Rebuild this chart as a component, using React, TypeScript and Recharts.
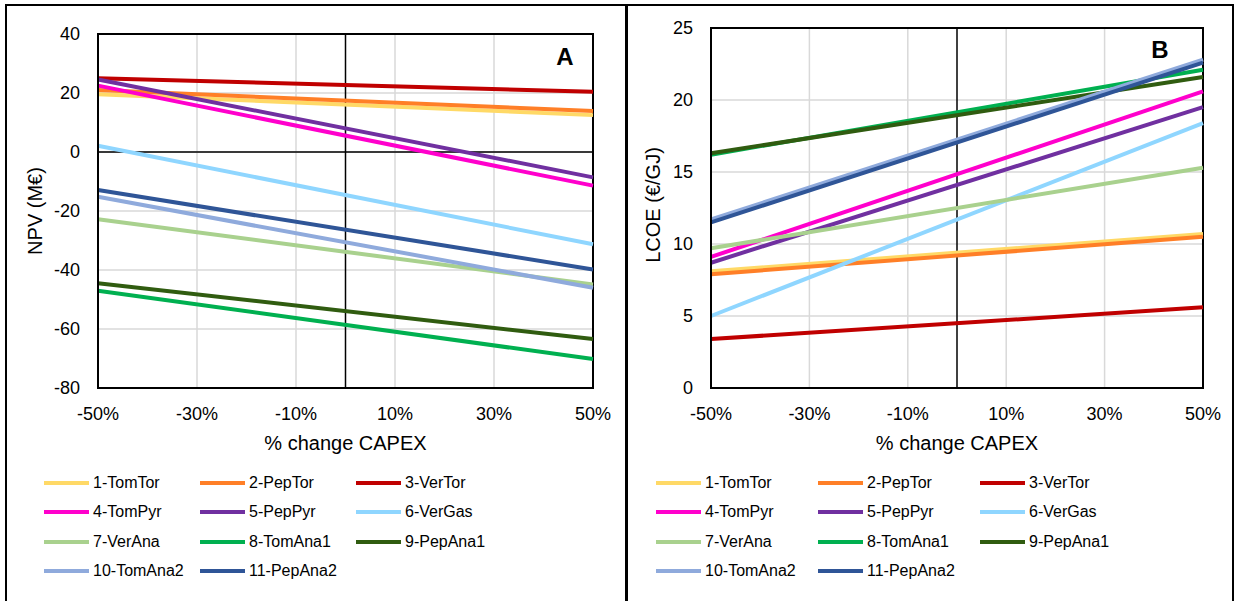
import { LineChart, Line, XAxis, YAxis, CartesianGrid, ReferenceLine, ReferenceArea, Label } from 'recharts'

const seriesNames = [
  '1-TomTor', '2-PepTor', '3-VerTor',
  '4-TomPyr', '5-PepPyr', '6-VerGas',
  '7-VerAna', '8-TomAna1', '9-PepAna1',
  '10-TomAna2', '11-PepAna2',
]
const seriesColors = [
  '#FFD966', '#FF7F27', '#C00000',
  '#FF00CC', '#7030A0', '#8FD6FF',
  '#A9D18E', '#00B050', '#305C10',
  '#8FAADC', '#2F5597',
]

// CAPEX variation (%) at the two ends of each sensitivity line
const capexChange = [-50, 50]
const capexTicks = [-50, -30, -10, 10, 30, 50]

// NPV (M€)
const npvAtMinus50 = [19.6, 21.0, 25.0, 22.5, 24.6, 2.1, -22.8, -47.0, -44.5, -15.2, -12.9]
const npvAtPlus50 = [12.5, 13.9, 20.4, -11.4, -8.6, -31.3, -44.9, -70.2, -63.4, -46.0, -39.8]
const npvTicks = [-80, -60, -40, -20, 0, 20, 40]

// LCOE (€/GJ)
const lcoeAtMinus50 = [8.1, 7.9, 3.4, 9.1, 8.7, 5.0, 9.7, 16.2, 16.3, 11.7, 11.5]
const lcoeAtPlus50 = [10.7, 10.5, 5.6, 20.6, 19.5, 18.4, 15.3, 22.1, 21.6, 22.8, 22.6]
const lcoeTicks = [0, 5, 10, 15, 20, 25]

const buildRows = (low: number[], high: number[]) =>
  capexChange.map((x, i) => {
    const row: Record<string, number> = { x }
    const vals = i === 0 ? low : high
    seriesNames.forEach((_, k) => { row['s' + k] = vals[k] })
    return row
  })

const npvRows = buildRows(npvAtMinus50, npvAtPlus50)
const lcoeRows = buildRows(lcoeAtMinus50, lcoeAtPlus50)

const FONT = '"Liberation Sans", Arial, sans-serif'

const rotatedTitle = (x: number, y: number, value: string) => () => (
  <text x={x} y={y} transform={`rotate(-90 ${x} ${y})`} textAnchor="middle"
    dominantBaseline="central" fontSize={20} fill="#000">{value}</text>
)

const cornerTag = (x: number, y: number, value: string) => () => (
  <text x={x} y={y} textAnchor="middle" fontSize={24} fontWeight="bold" fill="#000">{value}</text>
)

type PanelProps = {
  rows: Record<string, number>[]
  width: number
  yWidth: number
  top: number
  right: number
  domain: [number, number]
  ticks: number[]
  title: string
  titleX: number
  tag: string
  tagX: number
  tagY: number
  zeroLine: boolean
}

const Panel = (p: PanelProps) => (
  <LineChart width={p.width} height={470} data={p.rows}
    margin={{ top: p.top, right: p.right, bottom: 0, left: 0 }}>
    <CartesianGrid stroke="#D9D9D9" strokeWidth={1.5} />
    <XAxis dataKey="x" type="number" domain={[-50, 50]} ticks={capexTicks}
      tickFormatter={(v) => `${v}%`} height={82} tickSize={0} tickMargin={19}
      tick={{ fill: '#000', fontSize: 18 }} axisLine={{ stroke: '#000', strokeWidth: 2 }}>
      <Label value="% change CAPEX" position="insideBottom" offset={20} fill="#000" fontSize={20} />
    </XAxis>
    <YAxis type="number" domain={p.domain} ticks={p.ticks} width={p.yWidth}
      tickSize={0} tickMargin={18} tick={{ fill: '#000', fontSize: 18 }}
      axisLine={{ stroke: '#000', strokeWidth: 2 }}>
      <Label content={rotatedTitle(p.titleX, p.top + 177, p.title)} />
    </YAxis>
    <ReferenceLine x={0} stroke="#000" strokeWidth={1.5} />
    {p.zeroLine && <ReferenceLine y={0} stroke="#000" strokeWidth={1.5} />}
    <ReferenceArea x1={-50} x2={50} y1={p.domain[0]} y2={p.domain[1]}
      fill="none" stroke="#000" strokeWidth={2}>
      <Label content={cornerTag(p.tagX, p.tagY, p.tag)} />
    </ReferenceArea>
    {seriesNames.map((name, k) => (
      <Line key={name} name={name} dataKey={'s' + k} type="linear" stroke={seriesColors[k]}
        strokeWidth={4} dot={false} activeDot={false} isAnimationActive={false} />
    ))}
  </LineChart>
)

const LegendBlock = ({ left, cols }: { left: number; cols: number[] }) => (
  <>
    {seriesNames.map((name, k) => {
      const col = k % 3
      const row = Math.floor(k / 3)
      return (
        <div key={name} style={{
          position: 'absolute', left: left + cols[col], top: 483 + row * 29.4 - 10,
          height: 20, display: 'flex', alignItems: 'center', fontSize: 16, color: '#000',
          whiteSpace: 'nowrap',
        }}>
          <span style={{ display: 'inline-block', width: 45, height: 4, background: seriesColors[k], marginRight: 4 }} />
          {name}
        </div>
      )
    })}
  </>
)

export default function App() {
  return (
    <div style={{
      position: 'absolute', left: 0, top: 0, width: 1234, height: 601,
      background: '#fff', fontFamily: FONT, overflow: 'hidden',
    }}>
      <div style={{ position: 'absolute', left: 5, top: 4, width: 619, height: 620, border: '2px solid #000' }} />
      <div style={{ position: 'absolute', left: 625, top: 4, width: 605, height: 620, border: '2px solid #000' }} />
      <div style={{ position: 'absolute', left: 0, top: 0 }}>
        <Panel rows={npvRows} width={627} yWidth={98} top={34} right={34}
          domain={[-80, 40]} ticks={npvTicks} title="NPV (M€)" titleX={35}
          tag="A" tagX={565} tagY={65} zeroLine />
      </div>
      <div style={{ position: 'absolute', left: 627, top: 0 }}>
        <Panel rows={lcoeRows} width={607} yWidth={84} top={28} right={31}
          domain={[0, 25]} ticks={lcoeTicks} title="LCOE (€/GJ)" titleX={26}
          tag="B" tagX={533} tagY={58} zeroLine={false} />
      </div>
      <LegendBlock left={0} cols={[44, 200, 356]} />
      <LegendBlock left={0} cols={[656, 818, 980]} />
    </div>
  )
}
